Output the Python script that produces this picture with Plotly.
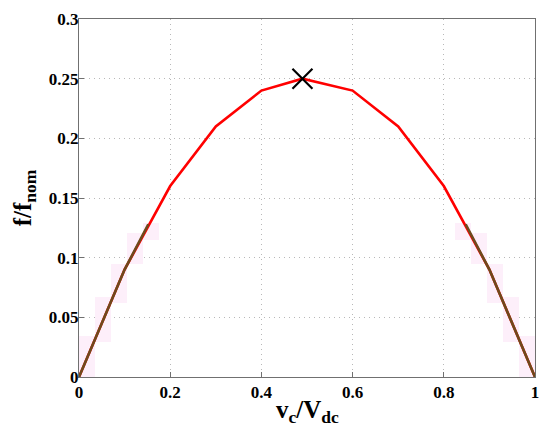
import plotly.graph_objects as go

# Data
x_vals = [0, 0.1, 0.2, 0.3, 0.4, 0.49, 0.6, 0.7, 0.8, 0.9, 1.0]
f_vals = [0, 0.09, 0.16, 0.21, 0.24, 0.25, 0.24, 0.21, 0.16, 0.09, 0]

brown_left_x = [0, 0.1, 0.152]
brown_left_y = [0, 0.09, 0.128]
brown_right_x = [0.848, 0.9, 1.0]
brown_right_y = [0.128, 0.09, 0]

shade_x = [0.0175, 0.0525, 0.0875, 0.1225, 0.1575, 0.8425, 0.8775, 0.9125, 0.9475, 0.9825]
shade_lo = [0.0, 0.029, 0.062, 0.095, 0.115, 0.115, 0.095, 0.062, 0.029, 0.0]
shade_hi = [0.034, 0.067, 0.095, 0.121, 0.129, 0.129, 0.121, 0.095, 0.067, 0.034]

peak_x = [0.49]
peak_y = [0.25]

x_ticks = [0, 0.2, 0.4, 0.6, 0.8, 1]
x_tick_text = ["0", "0.2", "0.4", "0.6", "0.8", "1"]
y_ticks = [0, 0.05, 0.1, 0.15, 0.2, 0.25, 0.3]
y_tick_text = ["0", "0.05", "0.1", "0.15", "0.2", "0.25", "0.3"]

x_title = "<b>v<sub>c</sub>/V<sub>dc</sub></b>"
y_title = "<b>f/f<sub>nom</sub></b>"

fig = go.Figure()

fig.add_trace(go.Bar(
    x=shade_x,
    y=[h - l for h, l in zip(shade_hi, shade_lo)],
    base=shade_lo,
    width=0.035,
    marker=dict(color="#fdeffa", line=dict(width=0)),
    showlegend=False, hoverinfo="skip",
))

fig.add_trace(go.Scatter(
    x=x_vals, y=f_vals, mode="lines",
    line=dict(color="#ff0000", width=2.6),
    showlegend=False,
))
fig.add_trace(go.Scatter(
    x=brown_left_x, y=brown_left_y, mode="lines",
    line=dict(color="#6e4a1c", width=2.6),
    showlegend=False,
))
fig.add_trace(go.Scatter(
    x=brown_right_x, y=brown_right_y, mode="lines",
    line=dict(color="#6e4a1c", width=2.6),
    showlegend=False,
))
fig.add_trace(go.Scatter(
    x=peak_x, y=peak_y, mode="markers",
    marker=dict(symbol="x-thin", size=20, line=dict(color="black", width=2.2)),
    showlegend=False,
))

axis_common = dict(
    showgrid=True,
    gridcolor="#b8b8b8",
    griddash="1px,4px",
    gridwidth=1,
    showline=True,
    linecolor="#707070",
    linewidth=1,
    mirror=True,
    ticks="inside",
    ticklen=5,
    tickcolor="#707070",
    zeroline=False,
    automargin=False,
    tickfont=dict(family="Liberation Serif", size=17, color="black", weight="bold"),
)

# The page body has an 8px default margin, so the figure is sized to fit the window.
fig.update_layout(
    width=542, height=432,
    margin=dict(l=71, r=15, t=11, b=63),
    paper_bgcolor="white",
    plot_bgcolor="white",
    bargap=0,
    xaxis=dict(
        range=[0, 1],
        tickvals=x_ticks, ticktext=x_tick_text,
        ticklabelstandoff=0,
        **axis_common,
    ),
    yaxis=dict(
        range=[0, 0.3],
        tickvals=y_ticks, ticktext=y_tick_text,
        ticklabelstandoff=-4,
        title=dict(text=y_title,
                   font=dict(family="Liberation Serif", size=25, color="black"),
                   standoff=10),
        **axis_common,
    ),
    annotations=[dict(
        text=x_title, xref="paper", yref="paper", x=0.5, y=0,
        xanchor="center", yanchor="top", yshift=-17, showarrow=False,
        font=dict(family="Liberation Serif", size=25, color="black"),
    )],
)

fig.write_html("out.html")
